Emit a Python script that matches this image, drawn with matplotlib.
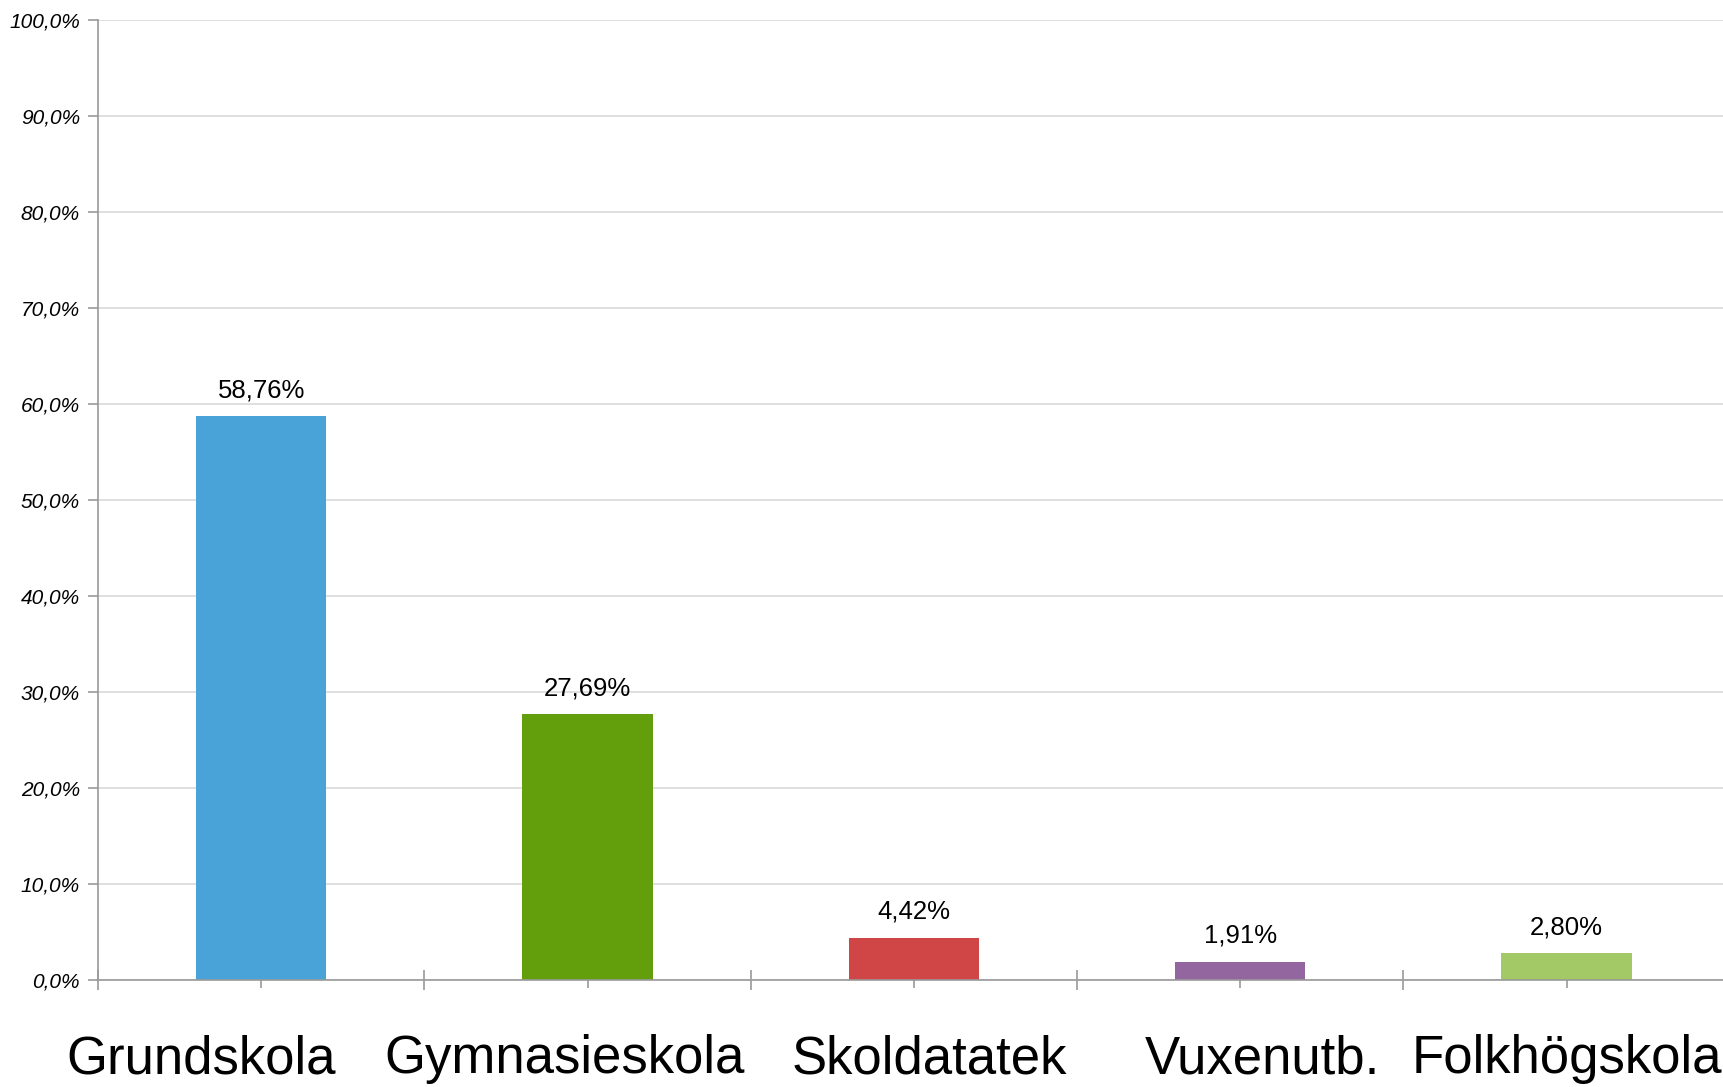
import numpy as np
import matplotlib
matplotlib.use('Agg')
import matplotlib.pyplot as plt
import matplotlib.transforms as mtransforms

# data
categories = ['Grundskola', 'Gymnasieskola', 'Skoldatatek', 'Vuxenutb.', 'Folkhögskola']
values = [58.76, 27.69, 4.42, 1.91, 2.80]
colors = ['#4aa3d8', '#639f0d', '#d04545', '#9466a0', '#a3c966']
ytick_vals = [0, 10, 20, 30, 40, 50, 60, 70, 80, 90, 100]

plt.rcParams['font.family'] = ['Liberation Sans', 'DejaVu Sans']

fig = plt.figure(figsize=(17.23, 10.87), dpi=100)
ax = fig.add_axes([0.0569, 0.0984, 0.947, 0.8832])

x = np.arange(len(categories))
ax.bar(x, values, width=0.40, color=colors, zorder=3)

for xi, v in zip(x, values):
    ax.annotate(f'{v:.2f}%'.replace('.', ','), (xi, v), xytext=(0, 10),
                textcoords='offset points', ha='center', va='bottom', fontsize=18.5)

ax.set_xlim(-0.5, len(categories) - 0.5)
ax.set_ylim(0, 100)

ax.set_yticks(ytick_vals)
ax.set_yticklabels([f'{v:.1f}%'.replace('.', ',') for v in ytick_vals],
                   fontsize=15, style='italic')
ax.yaxis.grid(True, color='#d9d9d9', linewidth=1.2, zorder=0)
ax.tick_params(axis='y', length=7, color='#999999', width=1.2, pad=6)

# kategorier i mitten, streck mellan kategorierna
ax.set_xticks(x)
ax.set_xticklabels(categories, fontsize=38)
ax.tick_params(axis='x', length=6, color='#999999', width=1.2, pad=33)
ax.set_xticks(np.arange(-0.5, len(categories)), minor=True)
ax.tick_params(axis='x', which='minor', direction='inout', length=14, color='#999999', width=1.2)

# etiketterna ligger lite förskjutna i originalet
shifts_px = [-60, -23, 15, 22, 0]
for lbl, dx in zip(ax.get_xticklabels(), shifts_px):
    lbl.set_transform(lbl.get_transform() + mtransforms.ScaledTranslation(dx / 100, 0, fig.dpi_scale_trans))

for s in ['top', 'right']:
    ax.spines[s].set_visible(False)
for s in ['left', 'bottom']:
    ax.spines[s].set_color('#999999')
    ax.spines[s].set_linewidth(1.2)
ax.spines['bottom'].set_zorder(4)

fig.savefig('out.png', dpi=100)
